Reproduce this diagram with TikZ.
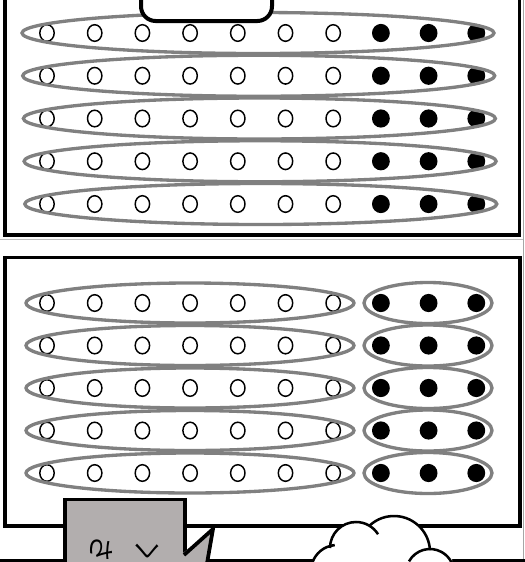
\documentclass[tikz,border=0pt]{standalone}
\usepackage{fontspec}
\newfontfamily\jpfont{Noto Sans CJK JP}
\definecolor{ringgray}{RGB}{128,128,128}
\definecolor{boxgray}{RGB}{178,174,174}
\tikzset{
  frame/.style={draw=black, line width=2.6pt},
  ring/.style={draw=ringgray, line width=2.5pt},
  opendot/.style={draw=black, line width=1.1pt, fill=white},
  fulldot/.style={fill=black},
  jptext/.style={font=\jpfont\fontsize{20}{24}\selectfont, inner sep=0pt},
  cloudline/.style={draw=black, line width=1.9pt}
}
\begin{document}
\begin{tikzpicture}[x=0.75pt,y=-0.75pt]
\useasboundingbox (0,0) rectangle (525,562);
\begin{scope}
\clip (0,0) rectangle (525,562);
% thin page edge lines
\draw[gray!70, line width=0.6pt] (523.5,-5) -- (523.5,570);
\draw[gray!50, line width=0.5pt] (0,239) -- (523,239);
% panel frames
\draw[frame] (5,-20) rectangle (519.5,235);
\draw[frame] (5,257.5) rectangle (520,526);
\draw[frame] (-5,560.5) -- (530,560.5);
% top panel dots and rings
\foreach \r in {0,...,4} {
  \foreach \c in {0,...,6} {
    \draw[opendot] ({47+47.7*\c},{33+42.75*\r}) ellipse [x radius=7.2, y radius=8.3];
  }
  \foreach \c in {7,8,9} {
    \fill[fulldot] ({47+47.7*\c},{33+42.75*\r}) ellipse [x radius=8.9, y radius=9.1];
  }
  \draw[ring] ({258+0.7*\r},{33+42.75*\r}) ellipse [x radius=236, y radius=20.5];
}
% top rounded box
\draw[line width=3pt, fill=white, rounded corners=11pt] (141,-30) rectangle (272,21);
% bottom panel dots and rings
\foreach \r in {0,...,4} {
  \foreach \c in {0,...,6} {
    \draw[opendot] ({47+47.7*\c},{303+42.5*\r}) ellipse [x radius=7.2, y radius=8.3];
  }
  \foreach \c in {7,8,9} {
    \fill[fulldot] ({47+47.7*\c},{303+42.5*\r}) ellipse [x radius=8.9, y radius=9.1];
  }
  \draw[ring] (190,{303+42.5*\r}) ellipse [x radius=164, y radius=20];
  \draw[ring] (428,{303+42.5*\r}) ellipse [x radius=64, y radius=20.5];
}
% grey caption box with tail
\draw[line width=2.8pt, fill=boxgray] (65,499.5) rectangle (185,600);
\fill[boxgray] (183,553) -- (213,529) -- (205,575) -- (178,575) -- cycle;
\draw[line width=2.8pt, line join=miter, miter limit=20] (184,555) -- (213,529) -- (205,575);
\node[jptext, xscale=-1, rotate=90] (chi) at (101,549) {ち};
\node[jptext, xscale=-1, rotate=90] (ku) at (147,550) {く};
% cloud
\fill[white] (356,548) circle [radius=26];
\fill[white] (394,552) circle [radius=36];
\fill[white] (430,573) circle [radius=24];
\fill[white] (337,571) circle [radius=26];
\fill[white] (330,548) -- (452,548) -- (452,575) -- (312,575) -- cycle;
\draw[cloudline] (337,571) ++(170:26) arc [start angle=170, end angle=265, radius=26];
\draw[cloudline] (356,548) ++(180:26) arc [start angle=180, end angle=328, radius=26];
\draw[cloudline] (394,552) ++(228:36) arc [start angle=228, end angle=357, radius=36];
\draw[cloudline] (430,573) ++(209:24) arc [start angle=209, end angle=370, radius=24];
\end{scope}
\end{tikzpicture}
\end{document}
